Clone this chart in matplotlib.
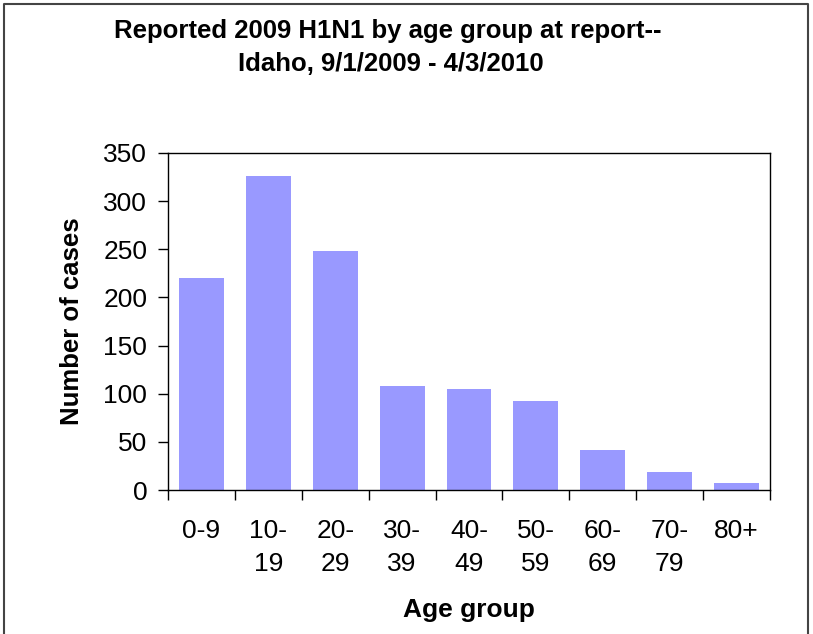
import matplotlib.pyplot as plt

plt.rcParams['font.family'] = ['Liberation Sans', 'DejaVu Sans']

# data
groups = ['0-9', '10-\n19', '20-\n29', '30-\n39', '40-\n49', '50-\n59', '60-\n69', '70-\n79', '80+']
cases = [220, 326, 248, 108, 105, 92, 42, 19, 7]

fig = plt.figure(figsize=(8.13, 6.34), dpi=100)
ax = fig.add_axes([168 / 813, 1 - 490 / 634, (770 - 168) / 813, (490 - 153) / 634])

x = list(range(len(groups)))
ax.bar(x, cases, width=0.67, color='#9999FF', zorder=2)

ax.set_xlim(-0.5, len(groups) - 0.5)
ax.set_ylim(0, 350)
ax.set_yticks(range(0, 351, 50))
# tick marks sit between the bars, labels under the bars
ax.set_xticks([i + 0.5 for i in range(-1, len(groups))])
ax.set_xticklabels([])
ax.set_xticks(x, minor=True)
ax.set_xticklabels(groups, minor=True, fontsize=19, linespacing=1.45, va='top')
ax.tick_params(axis='x', which='major', direction='out', length=7, width=1)
ax.tick_params(axis='x', which='minor', length=0, pad=21)
ax.tick_params(axis='y', direction='out', length=7, width=1, labelsize=19, pad=8)
for s in ax.spines.values():
    s.set_linewidth(1)

ax.set_ylabel('Number of cases', fontsize=18.5, fontweight='bold', labelpad=14)
ax.set_xlabel('Age group', fontsize=19, fontweight='bold', labelpad=16)

fig.text(388 / 813, 1 - 31 / 634, 'Reported 2009 H1N1 by age group at report--',
         ha='center', va='center', fontsize=18.5, fontweight='bold')
fig.text(391 / 813, 1 - 64 / 634, 'Idaho, 9/1/2009 - 4/3/2010',
         ha='center', va='center', fontsize=18.5, fontweight='bold')

# outer frame (bottom edge cut off in the source)
fig.add_artist(plt.Line2D([4 / 813, 4 / 813, 808 / 813, 808 / 813],
                          [0, 1 - 4 / 634, 1 - 4 / 634, 0],
                          transform=fig.transFigure, color='#444444', lw=1.5))

fig.savefig('out.png', dpi=100)
